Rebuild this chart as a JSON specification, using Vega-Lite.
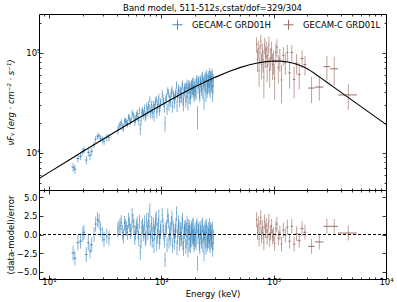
{
  "$schema": "https://vega.github.io/schema/vega-lite/v6.json",
  "padding": {"left": 5, "top": 3, "right": 2, "bottom": 2},
  "config": {
    "font": "DejaVu Sans",
    "view": {"stroke": "#000000", "strokeWidth": 1},
    "axis": {"grid": false, "domain": false, "tickColor": "#000000", "tickWidth": 0.8, "labelColor": "#000000", "titleColor": "#000000", "labelFont": "DejaVu Sans", "titleFont": "DejaVu Sans", "labelFontSize": 8.5, "titleFontSize": 8.5, "titleFontWeight": "normal", "labelFlush": false, "labelOverlap": false},
    "legend": {"labelFont": "DejaVu Sans", "labelFontSize": 8.5, "labelColor": "#000000"}
  },
  "datasets": {
    "pts": [
      {"d":"H","e":16.4,"de":0.5,"f":7160,"df":716,"r":-2.5,"u":1},
      {"d":"H","e":17.0,"de":0.5,"f":6830,"df":734,"r":-3.2,"u":1},
      {"d":"H","e":18.1,"de":0.5,"f":8740,"df":766,"r":-1.1,"u":1},
      {"d":"H","e":19.1,"de":0.5,"f":9220,"df":795,"r":-0.9,"u":1},
      {"d":"H","e":20.0,"de":0.5,"f":10260,"df":821,"r":0.0,"u":1},
      {"d":"H","e":20.5,"de":0.5,"f":10680,"df":834,"r":0.3,"u":1},
      {"d":"H","e":21.5,"de":0.5,"f":8450,"df":862,"r":-2.7,"u":1},
      {"d":"H","e":22.4,"de":0.5,"f":10110,"df":887,"r":-1.1,"u":1},
      {"d":"H","e":23.2,"de":0.5,"f":9360,"df":909,"r":-2.2,"u":1},
      {"d":"H","e":24.0,"de":0.5,"f":10330,"df":930,"r":-1.4,"u":1},
      {"d":"H","e":25.2,"de":0.5,"f":12020,"df":962,"r":0.0,"u":1},
      {"d":"H","e":26.0,"de":0.5,"f":13660,"df":982,"r":1.4,"u":1},
      {"d":"H","e":27.0,"de":0.5,"f":14620,"df":1008,"r":2.0,"u":1},
      {"d":"H","e":27.9,"de":0.5,"f":14740,"df":1030,"r":1.8,"u":1},
      {"d":"H","e":28.8,"de":0.5,"f":13910,"df":1054,"r":0.7,"u":1},
      {"d":"H","e":29.9,"de":0.5,"f":13500,"df":1080,"r":0.0,"u":1},
      {"d":"H","e":30.9,"de":0.5,"f":13040,"df":1105,"r":-0.7,"u":1},
      {"d":"H","e":32.7,"de":0.5,"f":14120,"df":1148,"r":-0.2,"u":1},
      {"d":"H","e":34.2,"de":0.5,"f":14200,"df":1183,"r":-0.5,"u":1},
      {"d":"H","e":41,"de":0.5,"f":16700,"df":1500,"r":0.6,"u":1},
      {"d":"H","e":42,"de":0.5,"f":18350,"df":1525,"r":0.9,"u":1},
      {"d":"H","e":43,"de":0.5,"f":19100,"df":1550,"r":1.2,"u":1},
      {"d":"H","e":44,"de":0.5,"f":20040,"df":1575,"r":1.6,"u":1},
      {"d":"H","e":45,"de":0.5,"f":18260,"df":1600,"r":0.3,"u":1},
      {"d":"H","e":46,"de":0.5,"f":17720,"df":1625,"r":-0.2,"u":1},
      {"d":"H","e":47,"de":0.5,"f":20780,"df":1650,"r":1.5,"u":1},
      {"d":"H","e":48,"de":0.5,"f":20410,"df":1673,"r":1.1,"u":1},
      {"d":"H","e":49,"de":0.5,"f":20190,"df":1695,"r":0.8,"u":1},
      {"d":"H","e":50,"de":0.5,"f":19610,"df":1718,"r":0.3,"u":1},
      {"d":"H","e":51,"de":0.5,"f":22660,"df":1740,"r":1.9,"u":1},
      {"d":"H","e":52,"de":0.5,"f":22060,"df":1763,"r":1.4,"u":1},
      {"d":"H","e":53,"de":0.5,"f":20550,"df":1785,"r":0.4,"u":1},
      {"d":"H","e":54,"de":0.5,"f":21350,"df":1808,"r":0.7,"u":1},
      {"d":"H","e":55,"de":0.5,"f":25090,"df":1830,"r":2.6,"u":1},
      {"d":"H","e":56,"de":0.5,"f":23910,"df":1853,"r":1.8,"u":1},
      {"d":"H","e":57,"de":0.5,"f":22880,"df":1875,"r":1.1,"u":1},
      {"d":"H","e":58,"de":0.5,"f":20310,"df":1898,"r":-0.4,"u":1},
      {"d":"H","e":59,"de":0.5,"f":21690,"df":1920,"r":0.2,"u":1},
      {"d":"H","e":60,"de":0.5,"f":23600,"df":2050,"r":1.0,"u":1},
      {"d":"H","e":61,"de":0.5,"f":24840,"df":2180,"r":1.4,"u":1},
      {"d":"H","e":62,"de":0.5,"f":22900,"df":2203,"r":0.4,"u":1},
      {"d":"H","e":63,"de":0.5,"f":20920,"df":2225,"r":-0.6,"u":1},
      {"d":"H","e":64,"de":0.5,"f":26300,"df":2248,"r":1.7,"u":1},
      {"d":"H","e":65,"de":0.5,"f":17260,"df":2270,"r":-2.4,"u":1},
      {"d":"H","e":66,"de":0.5,"f":20870,"df":2293,"r":-0.9,"u":1},
      {"d":"H","e":67,"de":0.5,"f":25250,"df":2315,"r":0.9,"u":1},
      {"d":"H","e":68,"de":0.5,"f":26200,"df":2338,"r":1.2,"u":1},
      {"d":"H","e":69,"de":0.5,"f":23860,"df":2360,"r":0.1,"u":1},
      {"d":"H","e":70,"de":0.5,"f":25040,"df":2383,"r":0.5,"u":1},
      {"d":"H","e":71,"de":0.5,"f":27920,"df":2405,"r":1.6,"u":1},
      {"d":"H","e":72,"de":0.5,"f":22830,"df":2428,"r":-0.6,"u":1},
      {"d":"H","e":73,"de":0.5,"f":23770,"df":2450,"r":-0.3,"u":1},
      {"d":"H","e":74,"de":0.5,"f":29420,"df":2473,"r":1.9,"u":1},
      {"d":"H","e":75,"de":0.5,"f":26930,"df":2495,"r":0.8,"u":1},
      {"d":"H","e":76,"de":0.5,"f":25660,"df":2515,"r":0.2,"u":1},
      {"d":"H","e":77,"de":0.5,"f":30440,"df":2535,"r":2.0,"u":1},
      {"d":"H","e":78,"de":0.5,"f":28140,"df":2558,"r":1.0,"u":1},
      {"d":"H","e":79,"de":0.5,"f":34060,"df":2580,"r":3.2,"u":1},
      {"d":"H","e":80,"de":0.5,"f":24710,"df":2600,"r":-0.5,"u":1},
      {"d":"H","e":81,"de":0.5,"f":27540,"df":2620,"r":0.5,"u":1},
      {"d":"H","e":82,"de":0.5,"f":30390,"df":2643,"r":1.5,"u":1},
      {"d":"H","e":83,"de":0.5,"f":24500,"df":2665,"r":-0.8,"u":1},
      {"d":"H","e":84,"de":0.5,"f":27100,"df":2685,"r":0.1,"u":1},
      {"d":"H","e":85,"de":0.5,"f":30560,"df":2705,"r":1.3,"u":1},
      {"d":"H","e":86,"de":0.5,"f":23160,"df":2725,"r":-1.5,"u":1},
      {"d":"H","e":87,"de":0.5,"f":28000,"df":2745,"r":0.2,"u":1},
      {"d":"H","e":88,"de":0.5,"f":29870,"df":2765,"r":0.8,"u":1},
      {"d":"H","e":89,"de":0.5,"f":32870,"df":2785,"r":1.8,"u":1},
      {"d":"H","e":90,"de":0.5,"f":33950,"df":2805,"r":2.1,"u":1},
      {"d":"H","e":91,"de":0.5,"f":24870,"df":2825,"r":-1.2,"u":1},
      {"d":"H","e":92,"de":0.5,"f":27880,"df":2845,"r":-0.2,"u":1},
      {"d":"H","e":93,"de":0.5,"f":30370,"df":2865,"r":0.6,"u":1},
      {"d":"H","e":94,"de":0.5,"f":32300,"df":2885,"r":1.2,"u":1},
      {"d":"H","e":95,"de":0.5,"f":36010,"df":2905,"r":2.4,"u":1},
      {"d":"H","e":96,"de":0.5,"f":26310,"df":2923,"r":-1.0,"u":1},
      {"d":"H","e":97,"de":0.5,"f":28250,"df":2940,"r":-0.4,"u":1},
      {"d":"H","e":98,"de":0.5,"f":30800,"df":2960,"r":0.4,"u":1},
      {"d":"H","e":99,"de":0.5,"f":32500,"df":2980,"r":0.9,"u":1},
      {"d":"H","e":102,"de":0.75,"f":39050,"df":3340,"r":2.6,"u":1},
      {"d":"H","e":103.5,"de":0.75,"f":34690,"df":3370,"r":1.2,"u":1},
      {"d":"H","e":105,"de":0.75,"f":31940,"df":3400,"r":0.3,"u":1},
      {"d":"H","e":106.5,"de":0.75,"f":28450,"df":3430,"r":-0.8,"u":1},
      {"d":"H","e":108,"de":0.75,"f":19700,"df":3460,"r":-3.4,"u":1},
      {"d":"H","e":109.5,"de":0.75,"f":33830,"df":3490,"r":0.6,"u":1},
      {"d":"H","e":111,"de":0.75,"f":35530,"df":3520,"r":1.0,"u":1},
      {"d":"H","e":112.5,"de":0.75,"f":27310,"df":3550,"r":-1.4,"u":1},
      {"d":"H","e":114,"de":0.75,"f":41500,"df":3580,"r":2.5,"u":1},
      {"d":"H","e":115.5,"de":0.75,"f":39320,"df":3610,"r":1.8,"u":1},
      {"d":"H","e":117,"de":0.75,"f":29820,"df":3640,"r":-0.9,"u":1},
      {"d":"H","e":118.5,"de":0.75,"f":34100,"df":3670,"r":0.2,"u":1},
      {"d":"H","e":120,"de":0.75,"f":36230,"df":3700,"r":0.7,"u":1},
      {"d":"H","e":121.5,"de":0.75,"f":32030,"df":3728,"r":-0.5,"u":1},
      {"d":"H","e":123,"de":0.75,"f":39770,"df":3755,"r":1.5,"u":1},
      {"d":"H","e":124.5,"de":0.75,"f":42710,"df":3783,"r":2.2,"u":1},
      {"d":"H","e":126,"de":0.75,"f":28930,"df":3810,"r":-1.5,"u":1},
      {"d":"H","e":127.5,"de":0.75,"f":38340,"df":3838,"r":0.9,"u":1},
      {"d":"H","e":129,"de":0.75,"f":36690,"df":3865,"r":0.4,"u":1},
      {"d":"H","e":130.5,"de":0.75,"f":31500,"df":3893,"r":-1.0,"u":1},
      {"d":"H","e":132,"de":0.75,"f":34860,"df":3920,"r":-0.2,"u":1},
      {"d":"H","e":133.5,"de":0.75,"f":37870,"df":3948,"r":0.5,"u":1},
      {"d":"H","e":135,"de":0.75,"f":40920,"df":3975,"r":1.2,"u":1},
      {"d":"H","e":136.5,"de":0.75,"f":47600,"df":4003,"r":2.8,"u":1},
      {"d":"H","e":138,"de":0.75,"f":29390,"df":4030,"r":-1.8,"u":1},
      {"d":"H","e":139.5,"de":0.75,"f":35670,"df":4058,"r":-0.3,"u":1},
      {"d":"H","e":141,"de":0.75,"f":39180,"df":4085,"r":0.5,"u":1},
      {"d":"H","e":142.5,"de":0.75,"f":43940,"df":4110,"r":1.6,"u":1},
      {"d":"H","e":144,"de":0.75,"f":41740,"df":4135,"r":1.0,"u":1},
      {"d":"H","e":145.5,"de":0.75,"f":32840,"df":4160,"r":-1.2,"u":1},
      {"d":"H","e":147,"de":0.75,"f":35550,"df":4185,"r":-0.6,"u":1},
      {"d":"H","e":148.5,"de":0.75,"f":41380,"df":4405,"r":0.7,"u":1},
      {"d":"H","e":150,"de":0.75,"f":39450,"df":4625,"r":0.2,"u":1},
      {"d":"H","e":151.5,"de":0.75,"f":35970,"df":4653,"r":-0.6,"u":1},
      {"d":"H","e":153,"de":0.75,"f":45540,"df":4680,"r":1.4,"u":1},
      {"d":"H","e":154.5,"de":0.75,"f":48170,"df":4708,"r":1.9,"u":1},
      {"d":"H","e":156,"de":0.75,"f":34240,"df":4735,"r":-1.1,"u":1},
      {"d":"H","e":157.5,"de":0.75,"f":30630,"df":4763,"r":-1.9,"u":1},
      {"d":"H","e":159,"de":0.75,"f":39915,"df":4790,"r":0.0,"u":1},
      {"d":"H","e":160.5,"de":0.75,"f":42070,"df":4818,"r":0.4,"u":1},
      {"d":"H","e":162,"de":0.75,"f":44240,"df":4845,"r":0.8,"u":1},
      {"d":"H","e":163.5,"de":0.75,"f":45450,"df":4870,"r":1.0,"u":1},
      {"d":"H","e":165,"de":0.75,"f":32960,"df":4895,"r":-1.6,"u":1},
      {"d":"H","e":166.5,"de":0.75,"f":36580,"df":4920,"r":-0.9,"u":1},
      {"d":"H","e":168,"de":0.75,"f":44190,"df":4945,"r":0.6,"u":1},
      {"d":"H","e":169.5,"de":0.75,"f":48900,"df":4973,"r":1.5,"u":1},
      {"d":"H","e":171,"de":0.75,"f":40160,"df":5000,"r":-0.3,"u":1},
      {"d":"H","e":172.5,"de":0.75,"f":31320,"df":5025,"r":-2.1,"u":1},
      {"d":"H","e":174,"de":0.75,"f":47640,"df":5050,"r":1.1,"u":1},
      {"d":"H","e":175.5,"de":0.75,"f":43320,"df":5075,"r":0.2,"u":1},
      {"d":"H","e":177,"de":0.75,"f":35890,"df":5100,"r":-1.3,"u":1},
      {"d":"H","e":178.5,"de":0.75,"f":47350,"df":5128,"r":0.9,"u":1},
      {"d":"H","e":180,"de":0.75,"f":44500,"df":5155,"r":0.3,"u":1},
      {"d":"H","e":181.5,"de":0.75,"f":35380,"df":5178,"r":-1.5,"u":1},
      {"d":"H","e":183,"de":0.75,"f":39190,"df":5200,"r":-0.8,"u":1},
      {"d":"H","e":184.5,"de":0.75,"f":46160,"df":5225,"r":0.5,"u":1},
      {"d":"H","e":186,"de":0.75,"f":48470,"df":5250,"r":0.9,"u":1},
      {"d":"H","e":187.5,"de":0.75,"f":40780,"df":5275,"r":-0.6,"u":1},
      {"d":"H","e":189,"de":0.75,"f":43090,"df":5300,"r":-0.2,"u":1},
      {"d":"H","e":190.5,"de":0.75,"f":50200,"df":5323,"r":1.1,"u":1},
      {"d":"H","e":192,"de":0.75,"f":51490,"df":5345,"r":1.3,"u":1},
      {"d":"H","e":193.5,"de":0.75,"f":42590,"df":5370,"r":-0.4,"u":1},
      {"d":"H","e":195,"de":0.75,"f":39550,"df":5395,"r":-1.0,"u":1},
      {"d":"H","e":196.5,"de":0.75,"f":37550,"df":5418,"r":-1.4,"u":1},
      {"d":"H","e":198,"de":0.75,"f":45880,"df":5440,"r":0.1,"u":1},
      {"d":"H","e":200,"de":1,"f":49010,"df":5700,"r":0.6,"u":1},
      {"d":"H","e":202,"de":1,"f":41680,"df":5960,"r":-0.7,"u":1},
      {"d":"H","e":204,"de":1,"f":39500,"df":5993,"r":-1.1,"u":1},
      {"d":"H","e":206,"de":1,"f":51760,"df":6025,"r":0.9,"u":1},
      {"d":"H","e":208,"de":1,"f":53860,"df":6058,"r":1.2,"u":1},
      {"d":"H","e":210,"de":1,"f":23080,"df":6090,"r":-3.9,"u":1},
      {"d":"H","e":212,"de":1,"f":45240,"df":6120,"r":-0.3,"u":1},
      {"d":"H","e":214,"de":1,"f":49780,"df":6150,"r":0.4,"u":1},
      {"d":"H","e":216,"de":1,"f":51900,"df":6183,"r":0.7,"u":1},
      {"d":"H","e":218,"de":1,"f":40360,"df":6215,"r":-1.2,"u":1},
      {"d":"H","e":220,"de":1,"f":38070,"df":6248,"r":-1.6,"u":1},
      {"d":"H","e":222,"de":1,"f":53340,"df":6280,"r":0.8,"u":1},
      {"d":"H","e":224,"de":1,"f":50460,"df":6313,"r":0.3,"u":1},
      {"d":"H","e":226,"de":1,"f":46270,"df":6345,"r":-0.4,"u":1},
      {"d":"H","e":228,"de":1,"f":43320,"df":6378,"r":-0.9,"u":1},
      {"d":"H","e":230,"de":1,"f":55710,"df":6410,"r":1.0,"u":1},
      {"d":"H","e":232,"de":1,"f":57900,"df":6440,"r":1.3,"u":1},
      {"d":"H","e":234,"de":1,"f":40690,"df":6470,"r":-1.4,"u":1},
      {"d":"H","e":236,"de":1,"f":48680,"df":6498,"r":-0.2,"u":1},
      {"d":"H","e":238,"de":1,"f":51510,"df":6525,"r":0.2,"u":1},
      {"d":"H","e":240,"de":1,"f":33380,"df":6555,"r":-2.6,"u":1},
      {"d":"H","e":242,"de":1,"f":46700,"df":6585,"r":-0.6,"u":1},
      {"d":"H","e":244,"de":1,"f":54170,"df":6613,"r":0.5,"u":1},
      {"d":"H","e":246,"de":1,"f":57070,"df":6640,"r":0.9,"u":1},
      {"d":"H","e":248,"de":1,"f":46470,"df":6928,"r":-0.7,"u":1},
      {"d":"H","e":250,"de":1,"f":39280,"df":7215,"r":-1.7,"u":1},
      {"d":"H","e":252,"de":1,"f":59740,"df":7248,"r":1.1,"u":1},
      {"d":"H","e":254,"de":1,"f":54180,"df":7280,"r":0.3,"u":1},
      {"d":"H","e":256,"de":1,"f":42710,"df":7310,"r":-1.3,"u":1},
      {"d":"H","e":258,"de":1,"f":45830,"df":7340,"r":-0.9,"u":1},
      {"d":"H","e":260,"de":1,"f":53390,"df":7370,"r":0.1,"u":1},
      {"d":"H","e":262,"de":1,"f":58040,"df":7400,"r":0.7,"u":1},
      {"d":"H","e":264,"de":1,"f":47120,"df":7430,"r":-0.8,"u":1},
      {"d":"H","e":266,"de":1,"f":51780,"df":7460,"r":-0.2,"u":1},
      {"d":"H","e":268,"de":1,"f":62460,"df":7488,"r":1.2,"u":1},
      {"d":"H","e":270,"de":1,"f":45410,"df":7515,"r":-1.1,"u":1},
      {"d":"H","e":272,"de":1,"f":42570,"df":7543,"r":-1.5,"u":1},
      {"d":"H","e":274,"de":1,"f":58630,"df":7570,"r":0.6,"u":1},
      {"d":"H","e":276,"de":1,"f":55810,"df":7600,"r":0.2,"u":1},
      {"d":"H","e":278,"de":1,"f":50680,"df":7630,"r":-0.5,"u":1},
      {"d":"H","e":280,"de":1,"f":47800,"df":7658,"r":-0.9,"u":1},
      {"d":"H","e":282,"de":1,"f":57970,"df":7685,"r":0.4,"u":1},
      {"d":"H","e":284,"de":1,"f":61270,"df":7715,"r":0.8,"u":1},
      {"d":"H","e":286,"de":1,"f":39820,"df":7745,"r":-2.0,"u":1},
      {"d":"H","e":288,"de":1,"f":46180,"df":7773,"r":-1.2,"u":1},
      {"d":"H","e":290,"de":1,"f":53370,"df":7800,"r":-0.3,"u":1},
      {"d":"L","e":705,"de":8,"f":121100,"df":21240,"r":2.0,"u":1},
      {"d":"L","e":718,"de":8,"f":85400,"df":21320,"r":0.3,"u":1},
      {"d":"L","e":730,"de":8,"f":109200,"df":21400,"r":1.4,"u":1},
      {"d":"L","e":742,"de":8,"f":66700,"df":21480,"r":-0.6,"u":1},
      {"d":"L","e":755,"de":8,"f":99200,"df":21550,"r":0.9,"u":1},
      {"d":"L","e":768,"de":8,"f":129900,"df":21630,"r":2.3,"u":1},
      {"d":"L","e":780,"de":8,"f":76000,"df":21690,"r":-0.2,"u":1},
      {"d":"L","e":792,"de":8,"f":102300,"df":21740,"r":1.0,"u":1},
      {"d":"L","e":805,"de":9,"f":85100,"df":21810,"r":0.2,"u":1},
      {"d":"L","e":818,"de":9,"f":56900,"df":21860,"r":-1.1,"u":1},
      {"d":"L","e":831,"de":9,"f":118400,"df":21910,"r":1.7,"u":1},
      {"d":"L","e":845,"de":9,"f":92300,"df":21960,"r":0.5,"u":1},
      {"d":"L","e":860,"de":10,"f":107900,"df":22010,"r":1.2,"u":1},
      {"d":"L","e":875,"de":10,"f":72900,"df":22060,"r":-0.4,"u":1},
      {"d":"L","e":890,"de":10,"f":95100,"df":22100,"r":0.6,"u":1},
      {"d":"L","e":906,"de":10,"f":121900,"df":22140,"r":1.8,"u":1},
      {"d":"L","e":922,"de":10,"f":66600,"df":22180,"r":-0.7,"u":1},
      {"d":"L","e":940,"de":11,"f":88900,"df":22210,"r":0.3,"u":1},
      {"d":"L","e":958,"de":11,"f":106800,"df":22240,"r":1.1,"u":1},
      {"d":"L","e":977,"de":12,"f":75800,"df":22260,"r":-0.3,"u":1},
      {"d":"L","e":997,"de":12,"f":82500,"df":22280,"r":0.0,"u":1},
      {"d":"L","e":1020,"de":14,"f":55800,"df":22290,"r":-1.2,"u":1},
      {"d":"L","e":1045,"de":14,"f":100500,"df":22300,"r":0.8,"u":1},
      {"d":"L","e":1070,"de":15,"f":113800,"df":22300,"r":1.4,"u":1},
      {"d":"L","e":1100,"de":16,"f":71400,"df":22280,"r":-0.5,"u":1},
      {"d":"L","e":1135,"de":18,"f":86900,"df":22250,"r":0.2,"u":1},
      {"d":"L","e":1175,"de":20,"f":53400,"df":22200,"r":-1.3,"u":1},
      {"d":"L","e":1220,"de":22,"f":93700,"df":19660,"r":0.6,"u":1},
      {"d":"L","e":1270,"de":25,"f":79500,"df":19560,"r":-0.1,"u":1},
      {"d":"L","e":1325,"de":28,"f":100300,"df":19420,"r":1.0,"u":1},
      {"d":"L","e":1385,"de":30,"f":62900,"df":19250,"r":-0.9,"u":1},
      {"d":"L","e":1450,"de":32,"f":100300,"df":19040,"r":1.1,"u":1},
      {"d":"L","e":1520,"de":35,"f":53800,"df":18780,"r":-1.3,"u":1},
      {"d":"L","e":1600,"de":40,"f":78750,"df":18460,"r":0.1,"u":1},
      {"d":"L","e":1690,"de":45,"f":60800,"df":18060,"r":-0.8,"u":1},
      {"d":"L","e":1790,"de":50,"f":87350,"df":17590,"r":0.8,"u":1},
      {"d":"L","e":1900,"de":55,"f":76100,"df":17040,"r":0.3,"u":1},
      {"d":"L","e":2174,"de":149,"f":44300,"df":13000,"r":-1.6,"u":1},
      {"d":"L","e":2550,"de":227,"f":45300,"df":12000,"r":-1.0,"u":1},
      {"d":"L","e":2977,"de":201,"f":72600,"df":20000,"r":1.1,"u":1},
      {"d":"L","e":3461,"de":284,"f":69100,"df":22000,"r":1.1,"u":1},
      {"d":"L","e":4622,"de":878,"f":37800,"df":11000,"r":0.2,"u":1}
    ],
    "model": [
      {"e":7.8,"m":5350},{"e":10,"m":6360},{"e":15,"m":8420},{"e":20,"m":10260},{"e":30,"m":13530},
      {"e":50,"m":19100},{"e":70,"m":23850},{"e":100,"m":30010},{"e":150,"m":38550},{"e":200,"m":45600},
      {"e":300,"m":56660},{"e":400,"m":64870},{"e":500,"m":70920},{"e":600,"m":75380},{"e":700,"m":78540},
      {"e":850,"m":81420},{"e":1000,"m":82540},{"e":1150,"m":82380},{"e":1300,"m":81180},{"e":1500,"m":78540},
      {"e":1700,"m":75040},{"e":1900,"m":71010},{"e":2175,"m":65080},{"e":2400,"m":60150},{"e":2700,"m":54740},
      {"e":3000,"m":50310},{"e":3500,"m":44480},{"e":4500,"m":36380},{"e":6000,"m":28900},{"e":8000,"m":22960},
      {"e":10000,"m":19200}
    ],
    "zero": [{"z": 0}]
  },
  "spacing": 0,
  "bounds": "flush",
  "resolve": {"scale": {"color": "independent"}, "legend": {"color": "independent"}},
  "vconcat": [
    {
      "width": 347,
      "height": 176,
      "title": {"text": "Band model, 511-512s,cstat/dof=329/304", "fontSize": 8.5, "fontWeight": "normal", "font": "DejaVu Sans", "color": "#000000", "offset": 1, "anchor": "middle"},
      "resolve": {"axis": {"x": "independent", "y": "independent"}},
      "layer": [
        {
          "data": {"name": "pts"},
          "mark": {"type": "errorbar", "opacity": 0.55, "thickness": 1},
          "encoding": {
            "x": {"field": "e", "type": "quantitative", "scale": {"type": "log", "domain": [8.15, 10000], "nice": false}, "axis": null},
            "y": {"field": "f", "type": "quantitative", "scale": {"type": "log", "domain": [4236, 243800], "nice": false}, "axis": null},
            "yError": {"field": "df"},
            "color": {"field": "d", "type": "nominal", "scale": {"domain": ["H", "L"], "range": ["#1f77b4", "#8c564b"]},
              "legend": {"orient": "top-right", "direction": "horizontal", "title": null, "symbolType": "M-1,0L1,0M0,-1L0,1", "symbolSize": 100, "symbolStrokeWidth": 1, "symbolOpacity": 0.6, "symbolFillColor": "transparent", "labelExpr": "datum.label == 'H' ? 'GECAM-C GRD01H' : 'GECAM-C GRD01L'", "columnPadding": 10, "labelOffset": 9, "offset": 5, "padding": 0}}
          }
        },
        {
          "data": {"name": "pts"},
          "mark": {"type": "errorbar", "opacity": 0.85, "thickness": 1},
          "encoding": {
            "x": {"field": "e", "type": "quantitative", "scale": {"type": "log", "domain": [8.15, 10000], "nice": false}, "axis": null},
            "xError": {"field": "de"},
            "y": {"field": "f", "type": "quantitative", "scale": {"type": "log", "domain": [4236, 243800], "nice": false}, "axis": null},
            "color": {"field": "d", "type": "nominal", "scale": {"domain": ["H", "L"], "range": ["#1f77b4", "#8c564b"]}}
          }
        },
        {
          "data": {"name": "model"},
          "mark": {"type": "line", "color": "#000000", "strokeWidth": 1.1, "clip": true},
          "encoding": {
            "x": {"field": "e", "type": "quantitative", "scale": {"type": "log", "domain": [8.15, 10000], "nice": false},
              "axis": {"orient": "bottom", "values": [10, 100, 1000, 10000], "labels": false, "tickSize": -4, "title": null}},
            "y": {"field": "m", "type": "quantitative", "scale": {"type": "log", "domain": [4236, 243800], "nice": false},
              "axis": {"orient": "left", "values": [10000, 100000], "tickSize": -4, "labelPadding": 3, "labelExpr": "datum.value == 10000 ? '10⁴' : '10⁵'", "title": "νFᵥ (erg · cm⁻² · s⁻¹)", "titleFontStyle": "italic", "titleX": -24}}
          }
        },
        {
          "data": {"name": "model"},
          "mark": {"type": "line", "opacity": 0},
          "encoding": {
            "x": {"field": "e", "type": "quantitative", "scale": {"type": "log", "domain": [8.15, 10000], "nice": false},
              "axis": {"orient": "bottom", "values": [9, 20, 30, 40, 50, 60, 70, 80, 90, 200, 300, 400, 500, 600, 700, 800, 900, 2000, 3000, 4000, 5000, 6000, 7000, 8000, 9000], "labels": false, "tickSize": -2, "title": null}},
            "y": {"field": "m", "type": "quantitative", "scale": {"type": "log", "domain": [4236, 243800], "nice": false},
              "axis": {"orient": "left", "values": [5000, 6000, 7000, 8000, 9000, 20000, 30000, 40000, 50000, 60000, 70000, 80000, 90000, 200000], "labels": false, "tickSize": -2, "title": null}}
          }
        },
        {
          "data": {"name": "model"},
          "mark": {"type": "line", "opacity": 0},
          "encoding": {
            "x": {"field": "e", "type": "quantitative", "scale": {"type": "log", "domain": [8.15, 10000], "nice": false},
              "axis": {"orient": "top", "values": [10, 100, 1000, 10000], "labels": false, "tickSize": -4, "title": null}},
            "y": {"field": "m", "type": "quantitative", "scale": {"type": "log", "domain": [4236, 243800], "nice": false},
              "axis": {"orient": "right", "values": [10000, 100000], "labels": false, "tickSize": -4, "title": null}}
          }
        },
        {
          "data": {"name": "model"},
          "mark": {"type": "line", "opacity": 0},
          "encoding": {
            "x": {"field": "e", "type": "quantitative", "scale": {"type": "log", "domain": [8.15, 10000], "nice": false},
              "axis": {"orient": "top", "values": [9, 20, 30, 40, 50, 60, 70, 80, 90, 200, 300, 400, 500, 600, 700, 800, 900, 2000, 3000, 4000, 5000, 6000, 7000, 8000, 9000], "labels": false, "tickSize": -2, "title": null}},
            "y": {"field": "m", "type": "quantitative", "scale": {"type": "log", "domain": [4236, 243800], "nice": false},
              "axis": {"orient": "right", "values": [5000, 6000, 7000, 8000, 9000, 20000, 30000, 40000, 50000, 60000, 70000, 80000, 90000, 200000], "labels": false, "tickSize": -2, "title": null}}
          }
        }
      ]
    },
    {
      "width": 347,
      "height": 89,
      "resolve": {"axis": {"x": "independent", "y": "independent"}},
      "layer": [
        {
          "data": {"name": "pts"},
          "mark": {"type": "errorbar", "opacity": 0.55, "thickness": 1},
          "encoding": {
            "x": {"field": "e", "type": "quantitative", "scale": {"type": "log", "domain": [8.15, 10000], "nice": false}, "axis": null},
            "y": {"field": "r", "type": "quantitative", "scale": {"domain": [-6, 6], "nice": false, "zero": false}, "axis": null},
            "yError": {"field": "u"},
            "color": {"field": "d", "type": "nominal", "scale": {"domain": ["H", "L"], "range": ["#1f77b4", "#8c564b"]}, "legend": null}
          }
        },
        {
          "data": {"name": "pts"},
          "mark": {"type": "errorbar", "opacity": 0.85, "thickness": 1},
          "encoding": {
            "x": {"field": "e", "type": "quantitative", "scale": {"type": "log", "domain": [8.15, 10000], "nice": false}, "axis": null},
            "xError": {"field": "de"},
            "y": {"field": "r", "type": "quantitative", "scale": {"domain": [-6, 6], "nice": false, "zero": false}, "axis": null},
            "color": {"field": "d", "type": "nominal", "scale": {"domain": ["H", "L"], "range": ["#1f77b4", "#8c564b"]}, "legend": null}
          }
        },
        {
          "data": {"name": "zero"},
          "mark": {"type": "rule", "color": "#000000", "strokeDash": [3, 2], "strokeWidth": 1},
          "encoding": {
            "y": {"field": "z", "type": "quantitative", "scale": {"domain": [-6, 6], "nice": false, "zero": false}, "axis": null}
          }
        },
        {
          "data": {"name": "pts"},
          "mark": {"type": "point", "opacity": 0},
          "encoding": {
            "x": {"field": "e", "type": "quantitative", "scale": {"type": "log", "domain": [8.15, 10000], "nice": false},
              "axis": {"orient": "bottom", "values": [10, 100, 1000, 10000], "tickSize": -4, "labelPadding": 2, "labelExpr": "datum.value == 10 ? '10¹' : datum.value == 100 ? '10²' : datum.value == 1000 ? '10³' : '10⁴'", "title": "Energy (keV)", "titlePadding": 4}},
            "y": {"field": "r", "type": "quantitative", "scale": {"domain": [-6, 6], "nice": false, "zero": false},
              "axis": {"orient": "left", "values": [-5, -2.5, 0, 2.5, 5], "format": ".1f", "tickSize": -4, "labelPadding": 6, "title": "(data-model)/error", "titleX": -24}}
          }
        },
        {
          "data": {"name": "pts"},
          "mark": {"type": "point", "opacity": 0},
          "encoding": {
            "x": {"field": "e", "type": "quantitative", "scale": {"type": "log", "domain": [8.15, 10000], "nice": false},
              "axis": {"orient": "bottom", "values": [9, 20, 30, 40, 50, 60, 70, 80, 90, 200, 300, 400, 500, 600, 700, 800, 900, 2000, 3000, 4000, 5000, 6000, 7000, 8000, 9000], "labels": false, "tickSize": -2, "title": null}},
            "y": {"field": "r", "type": "quantitative", "scale": {"domain": [-6, 6], "nice": false, "zero": false},
              "axis": {"orient": "right", "values": [-5, -2.5, 0, 2.5, 5], "labels": false, "tickSize": -4, "title": null}}
          }
        },
        {
          "data": {"name": "pts"},
          "mark": {"type": "point", "opacity": 0},
          "encoding": {
            "x": {"field": "e", "type": "quantitative", "scale": {"type": "log", "domain": [8.15, 10000], "nice": false},
              "axis": {"orient": "top", "values": [10, 100, 1000, 10000], "labels": false, "tickSize": -4, "title": null}},
            "y": {"field": "r", "type": "quantitative", "scale": {"domain": [-6, 6], "nice": false, "zero": false}, "axis": null}
          }
        },
        {
          "data": {"name": "pts"},
          "mark": {"type": "point", "opacity": 0},
          "encoding": {
            "x": {"field": "e", "type": "quantitative", "scale": {"type": "log", "domain": [8.15, 10000], "nice": false},
              "axis": {"orient": "top", "values": [9, 20, 30, 40, 50, 60, 70, 80, 90, 200, 300, 400, 500, 600, 700, 800, 900, 2000, 3000, 4000, 5000, 6000, 7000, 8000, 9000], "labels": false, "tickSize": -2, "title": null}},
            "y": {"field": "r", "type": "quantitative", "scale": {"domain": [-6, 6], "nice": false, "zero": false}, "axis": null}
          }
        }
      ]
    }
  ]
}
